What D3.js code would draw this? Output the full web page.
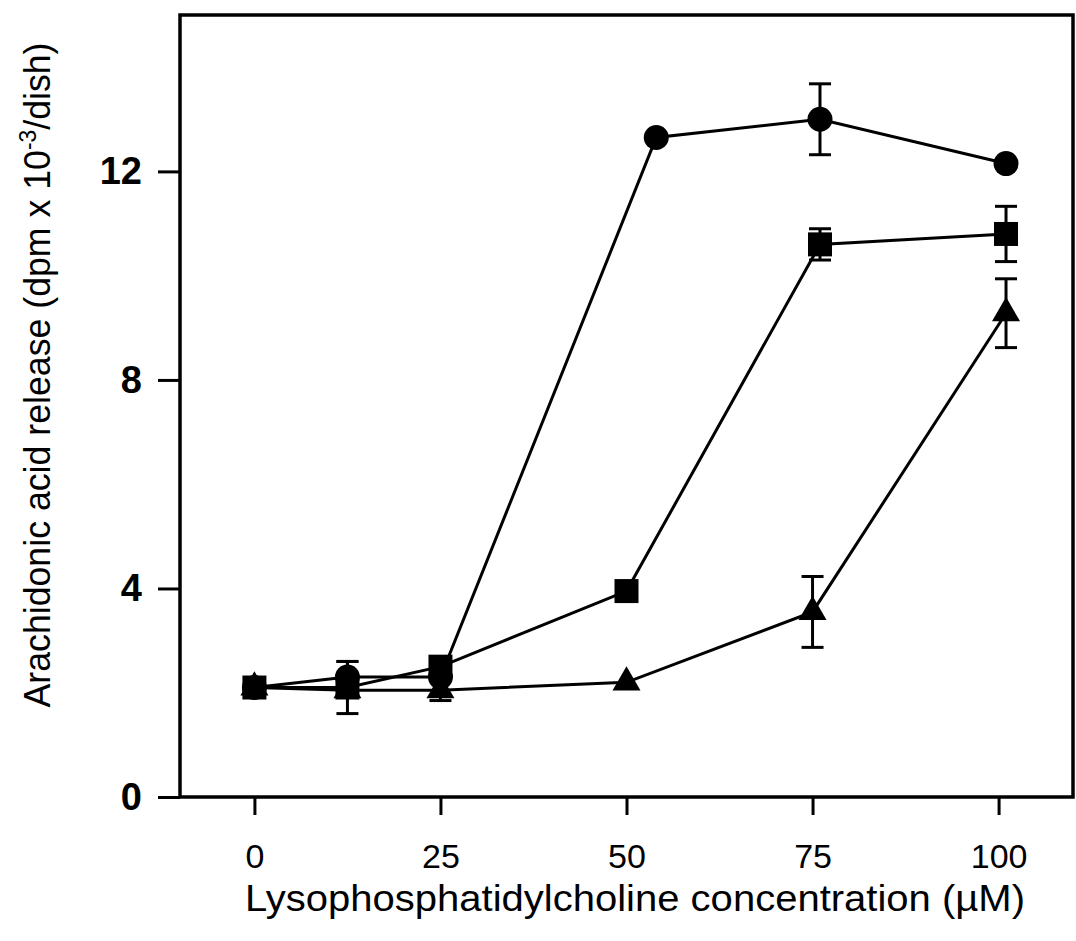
<!DOCTYPE html>
<html lang="en">
<head>
<meta charset="utf-8">
<title>Arachidonic acid release</title>
<script src="https://cdn.jsdelivr.net/npm/d3@7"></script>
<style>
body { margin: 0; background: #fff; }
text { font-family: Arial, "Liberation Sans", sans-serif; fill: #000; }
.frame { fill: none; stroke: #000; stroke-width: 3.5px; }
.axis line { stroke: #000; stroke-width: 3px; }
.axis path { display: none; }
.ylab text { font-size: 38px; font-weight: bold; }
.xlab text { font-size: 34px; }
.series { fill: none; stroke: #000; stroke-width: 3px; }
.err { stroke: #000; stroke-width: 3px; }
.mark { fill: #000; stroke: none; }
</style>
</head>
<body>
<script>
{
    // data (x = LPC concentration in uM, y = dpm x 10^-3 / dish)
    var xTicks = [0, 25, 50, 75, 100];
    var yTicks = [0, 4, 8, 12];

    var circX = [0, 12.5, 25, 54, 76, 101];
    var circY = [2.1, 2.3, 2.3, 12.65, 13.0, 12.15];
    var circE = [0, 0.3, 0, 0, 0.68, 0];

    var sqX = [0, 12.5, 25, 50, 76, 101];
    var sqY = [2.1, 2.1, 2.5, 3.95, 10.6, 10.8];
    var sqE = [0, 0.5, 0.15, 0.1, 0.3, 0.53];

    var triX = [0, 12.5, 25, 50, 75, 101];
    var triY = [2.1, 2.05, 2.05, 2.2, 3.55, 9.28];
    var triE = [0, 0, 0.2, 0, 0.68, 0.66];

    var w = 1076, h = 941;
    // plot frame (note: "top" is reserved on window, so use prefixed names)
    var pLeft = 180, pRight = 1073, pTop = 15, pBottom = 797;

    var svg = d3.select("body").append("svg")
        .attr("width", w)
        .attr("height", h);

    var x = d3.scaleLinear().domain([-10, 110]).range([pLeft, pRight]);
    var y = d3.scaleLinear().domain([0, 15]).range([pBottom, pTop]);

    // axes
    svg.append("g")
        .attr("class", "axis ylab")
        .attr("transform", "translate(" + pLeft + ",0)")
        .call(d3.axisLeft(y).tickValues(yTicks).tickSize(22).tickPadding(16).tickSizeOuter(0));

    svg.append("g")
        .attr("class", "axis xlab")
        .attr("transform", "translate(0," + pBottom + ")")
        .call(d3.axisBottom(x).tickValues(xTicks).tickSize(18).tickPadding(29).tickSizeOuter(0));

    svg.append("rect")
        .attr("class", "frame")
        .attr("x", pLeft).attr("y", pTop)
        .attr("width", pRight - pLeft).attr("height", pBottom - pTop);

    // axis titles
    svg.append("text")
        .attr("x", 635).attr("y", 911)
        .attr("text-anchor", "middle")
        .attr("font-size", 36)
        .attr("textLength", 780)
        .attr("lengthAdjust", "spacingAndGlyphs")
        .text("Lysophosphatidylcholine concentration (\u00b5M)");

    var yt = svg.append("text")
        .attr("transform", "translate(50,375) rotate(-90)")
        .attr("text-anchor", "middle")
        .attr("font-size", 36)
        .attr("textLength", 665)
        .attr("lengthAdjust", "spacingAndGlyphs");
    yt.append("tspan").text("Arachidonic acid release (dpm x 10");
    yt.append("tspan").attr("dy", -14).attr("font-size", 23).text("-3");
    yt.append("tspan").attr("dy", 14).text("/dish)");

    var line = d3.line()
        .x(function(d){ return x(d[0]); })
        .y(function(d){ return y(d[1]); });

    function pts(xs, ys, es) {
        return xs.map(function(v, i){ return [v, ys[i], es[i]]; });
    }

    var series = [
        { name: "circle", data: pts(circX, circY, circE), sym: d3.symbolCircle, size: Math.PI * 12.5 * 12.5 },
        { name: "square", data: pts(sqX, sqY, sqE), sym: d3.symbolSquare, size: 24 * 24 },
        { name: "triangle", data: pts(triX, triY, triE), sym: d3.symbolTriangle, size: 340 }
    ];

    series.forEach(function(s){
        svg.append("path")
            .attr("class", "series")
            .attr("d", line(s.data));
    });

    var cap = 11;
    series.forEach(function(s){
        var g = svg.append("g").attr("class", "err " + s.name);
        var eb = s.data.filter(function(d){ return d[2] > 0; });
        g.selectAll("line.v").data(eb).enter().append("line")
            .attr("x1", function(d){ return x(d[0]); })
            .attr("x2", function(d){ return x(d[0]); })
            .attr("y1", function(d){ return y(d[1] - d[2]); })
            .attr("y2", function(d){ return y(d[1] + d[2]); });
        g.selectAll("line.t").data(eb).enter().append("line")
            .attr("x1", function(d){ return x(d[0]) - cap; })
            .attr("x2", function(d){ return x(d[0]) + cap; })
            .attr("y1", function(d){ return y(d[1] + d[2]); })
            .attr("y2", function(d){ return y(d[1] + d[2]); });
        g.selectAll("line.b").data(eb).enter().append("line")
            .attr("x1", function(d){ return x(d[0]) - cap; })
            .attr("x2", function(d){ return x(d[0]) + cap; })
            .attr("y1", function(d){ return y(d[1] - d[2]); })
            .attr("y2", function(d){ return y(d[1] - d[2]); });
    });

    series.forEach(function(s){
        svg.append("g").selectAll("path").data(s.data).enter().append("path")
            .attr("class", "mark")
            .attr("transform", function(d){ return "translate(" + x(d[0]) + "," + y(d[1]) + ")"; })
            .attr("d", d3.symbol().type(s.sym).size(s.size));
    });
}
</script>
</body>
</html>
